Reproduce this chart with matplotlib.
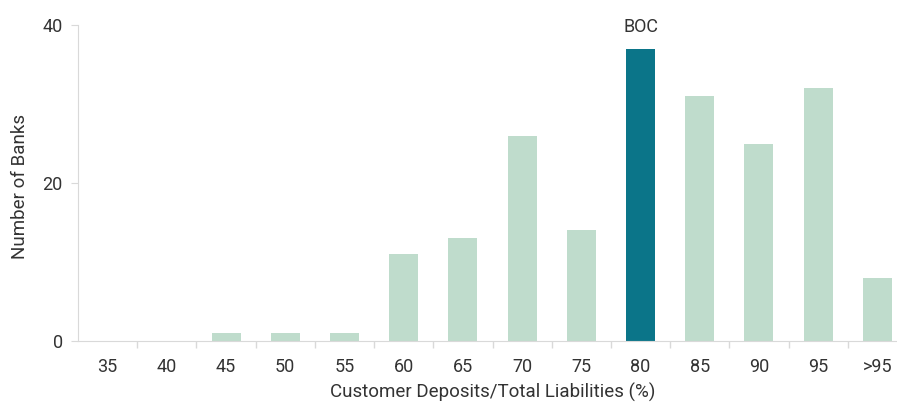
import numpy as np
import matplotlib.pyplot as plt

# data
categories = ["35", "40", "45", "50", "55", "60", "65", "70", "75", "80", "85", "90", "95", ">95"]
counts = [0, 0, 1, 1, 1, 11, 13, 26, 14, 37, 31, 25, 32, 8]
highlight = "80"
highlight_label = "BOC"

plt.rcParams['font.family'] = ['Roboto', 'DejaVu Sans']
txt = "#333333"

fig = plt.figure(figsize=(8.97, 4.03), dpi=100)
# axes runs a bit past the right edge of the figure, as in the reference
ax = fig.add_axes([78 / 897, 1 - 341 / 403, (907 - 78) / 897, (341 - 25) / 403])

x = np.arange(len(categories))
colors = ["#0b7589" if c == highlight else "#bfdccc" for c in categories]
ax.bar(x, counts, width=0.49, color=colors)

hi = categories.index(highlight)
ax.text(hi, counts[hi] + 1.6, highlight_label, ha="center", va="bottom",
        fontsize=13, color=txt)

ax.set_xlim(-0.5, len(categories) - 0.5)
ax.set_ylim(0, 40)
ax.set_yticks([0, 20, 40])
ax.set_xticks(x)
ax.set_xticklabels(categories)
ax.set_xticks(np.arange(0.5, len(categories) - 0.5, 1), minor=True)

ax.tick_params(axis="x", which="major", length=0, pad=12, labelsize=13, labelcolor=txt)
ax.tick_params(axis="x", which="minor", length=5, color="#d9d9d9", width=1)
ax.tick_params(axis="y", length=5, color="#d9d9d9", labelsize=13, labelcolor=txt, pad=6)

for s in ["top", "right"]:
    ax.spines[s].set_visible(False)
for s in ["left", "bottom"]:
    ax.spines[s].set_color("#d9d9d9")

ax.set_xlabel("Customer Deposits/Total Liabilities (%)", fontsize=13.5, color=txt, labelpad=5)
ax.set_ylabel("Number of Banks", fontsize=13.5, color=txt, va="center")
ax.yaxis.set_label_coords(-58 / 829, 0.49)

fig.savefig("out.png", dpi=100)
